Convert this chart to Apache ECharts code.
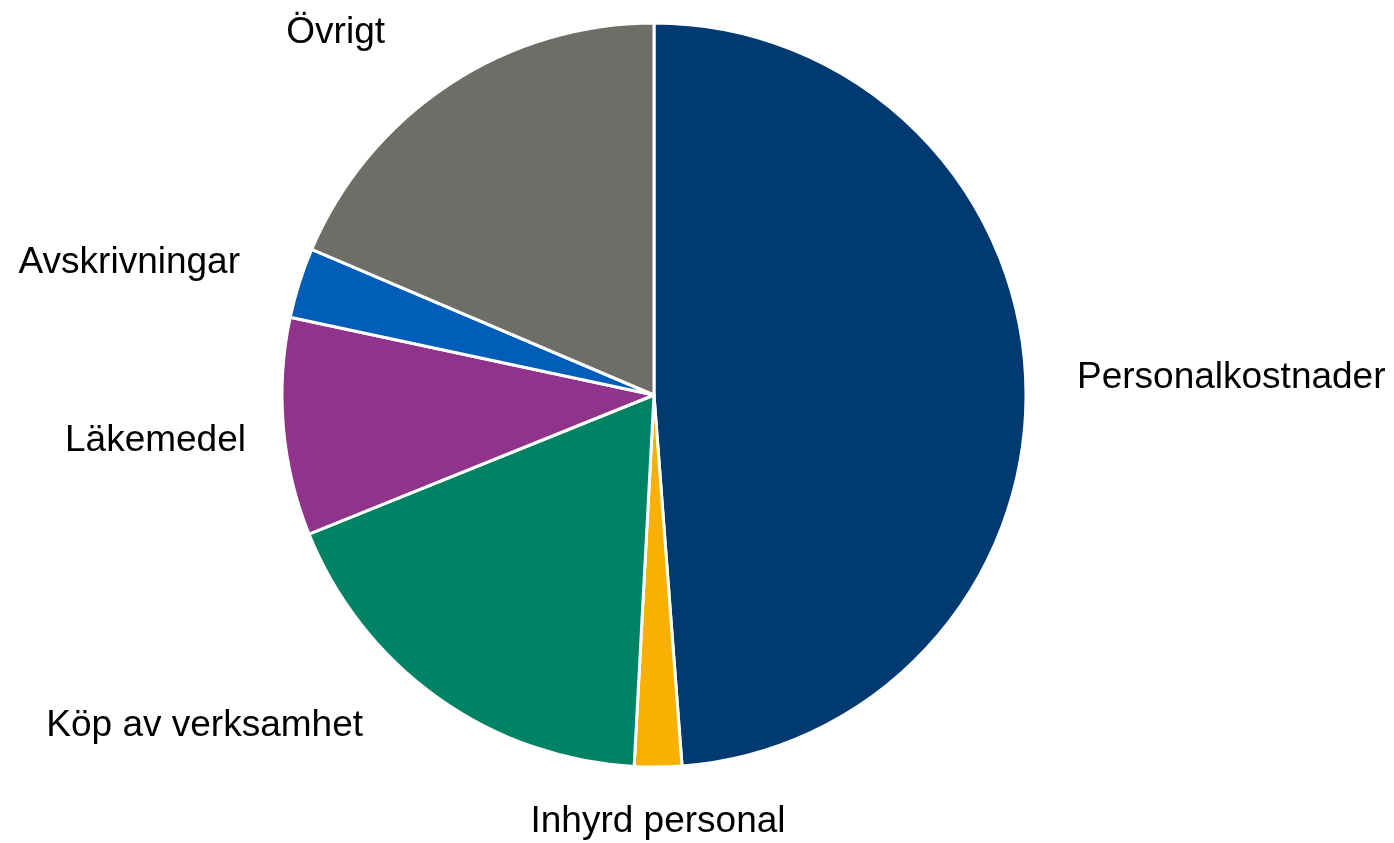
<!DOCTYPE html>
<html>
<head>
<meta charset="utf-8">
<script src="https://cdn.jsdelivr.net/npm/echarts@6/dist/echarts.min.js"></script>
<style>
  html, body { margin: 0; padding: 0; background: #fff; }
  #pie { width: 1394px; height: 843px; }
</style>
</head>
<body>
<div id="pie"></div>
<script>
// kostnadsfördelning, andelar i procent
var categories = ["Personalkostnader", "Inhyrd personal", "Köp av verksamhet", "Läkemedel", "Avskrivningar", "Övrigt"];
var values = [48.8, 2.05, 18.05, 9.45, 3.05, 18.6];
var colors = ["#003A70", "#F9B000", "#008364", "#91338B", "#005EB8", "#6E6D67"];

// etiketternas placering som i originalet (x, y, justering)
var labelPos = [
  [1077, 378, "left"],
  [658, 822, "center"],
  [363, 726, "right"],
  [246, 441, "right"],
  [240, 263, "right"],
  [385, 33, "right"]
];

var myChart = echarts.init(document.getElementById("pie"));

var data = categories.map(function (name, i) {
  return { name: name, value: values[i], itemStyle: { color: colors[i] } };
});

myChart.setOption({
  animation: false,
  series: [
    {
      type: "pie",
      center: [654, 395],
      radius: 372,
      startAngle: 90,
      clockwise: true,
      data: data,
      itemStyle: { borderColor: "#fff", borderWidth: 3 },
      label: {
        show: true,
        position: "outside",
        overflow: "none",
        fontFamily: "Liberation Sans, Arial, sans-serif",
        fontSize: 37,
        color: "#000"
      },
      labelLine: { show: false, length: 45, length2: 0 },
      labelLayout: function (params) {
        var p = labelPos[params.dataIndex];
        return { x: p[0], y: p[1], align: p[2], verticalAlign: "middle" };
      },
      emphasis: { disabled: true }
    }
  ]
});
</script>
</body>
</html>
